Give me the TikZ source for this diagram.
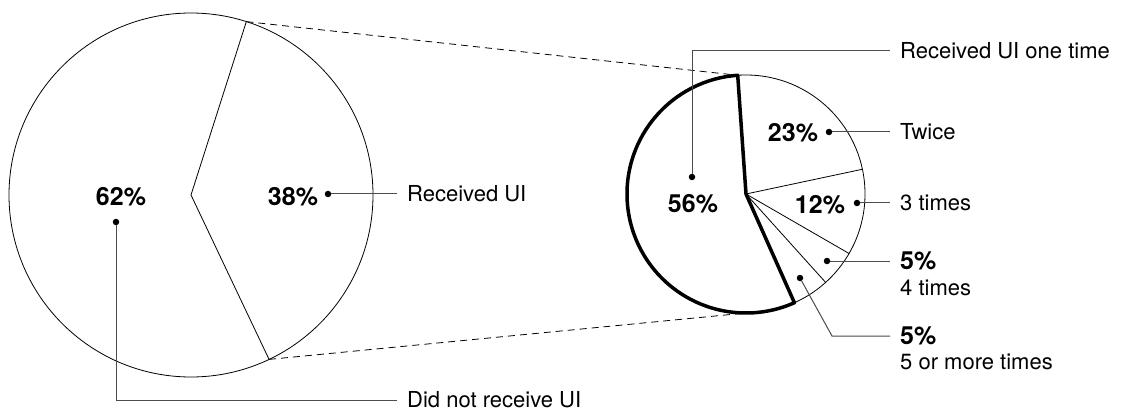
\documentclass[tikz,border=0pt]{standalone}
\usepackage{fontspec}
\setmainfont{TeX Gyre Heros}
\begin{document}
\begin{tikzpicture}[x=1pt,y=1pt,
	pct/.style={font=\fontsize{25}{25}\selectfont\bfseries, inner sep=0pt},
	lbl/.style={anchor=west, inner sep=0pt, font=\fontsize{22}{22}\selectfont},
	dot/.style={circle, fill, inner sep=0pt, minimum size=6.5pt},
	lead/.style={black!70, line width=1pt, shorten >=10pt},
	thin/.style={line width=0.8pt}]
	\useasboundingbox (0,0) rectangle (1122,413);
	% big pie
	\coordinate (big) at (191,218);
	\draw[thin] (big) circle(182);
	\draw[thin] (big) ++(72.3:182) coordinate (btop) -- (big) -- ++(-64.6:182) coordinate (bbot);
	% small pie
	\coordinate (small) at (746,219);
	\draw[thin] (small) circle(119);
	\foreach \a in {12,-30,-48}
		\draw[thin] (small) -- ++(\a:119);
	\draw[line width=3.5pt, line join=round] (small) -- ++(94:119) coordinate (stop)
		arc[start angle=94, end angle=294, radius=119] -- cycle;
	\path (small) ++(-90:119) coordinate (sbot);
	\draw[thin, dash pattern=on 7pt off 5pt, shorten >=8pt] (btop) -- (stop);
	\draw[thin, dash pattern=on 7pt off 5pt] (bbot) -- (sbot);
	% percentages
	\node[pct] (p62) at (121,216) {62\%};
	\node[pct] (p38) at (293,216) {38\%};
	\node[pct] (p56) at (693,209) {56\%};
	\node[pct] (p23) at (793,280) {23\%};
	\node[pct] (p12) at (820,208) {12\%};
	\node[dot] (d62) at (116,191) {};
	\node[dot] (d38) at (328,219) {};
	\node[dot] (d56) at (692,236) {};
	\node[dot] (d23) at (829,281) {};
	\node[dot] (d12) at (857,210) {};
	\node[dot] (d5a) at (827,152) {};
	\node[dot] (d5b) at (800,135) {};
	% labels
	\node[lbl] (tyes) at (407,219) {Received UI};
	\node[lbl] (tno) at (407,13) {Did not receive UI};
	\node[lbl] (tone) at (900,362) {Received UI one time};
	\node[lbl] (ttwo) at (900,281) {Twice};
	\node[lbl] (tthree) at (900,210) {3 times};
	\node[lbl, font=\fontsize{25}{25}\selectfont\bfseries] (p5a) at (900,152) {5\%};
	\node[lbl] (tfour) at (900,125) {4 times};
	\node[lbl, font=\fontsize{25}{25}\selectfont\bfseries] (p5b) at (900,77) {5\%};
	\node[lbl] (tfive) at (900,51) {5 or more times};
	% leaders
	\draw[lead] (d62) |- (tno.west);
	\draw[lead] (d38) -- (d38 -| tyes.west);
	\draw[lead] (d56) |- (tone.west);
	\draw[lead] (d23) -- (d23 -| ttwo.west);
	\draw[lead] (d12) -- (d12 -| tthree.west);
	\draw[lead] (d5a) -- (d5a -| p5a.west);
	\coordinate (k5b) at (832,77);
	\draw[lead] (d5b) -- (k5b) -- (k5b -| p5b.west);
\end{tikzpicture}
\end{document}
